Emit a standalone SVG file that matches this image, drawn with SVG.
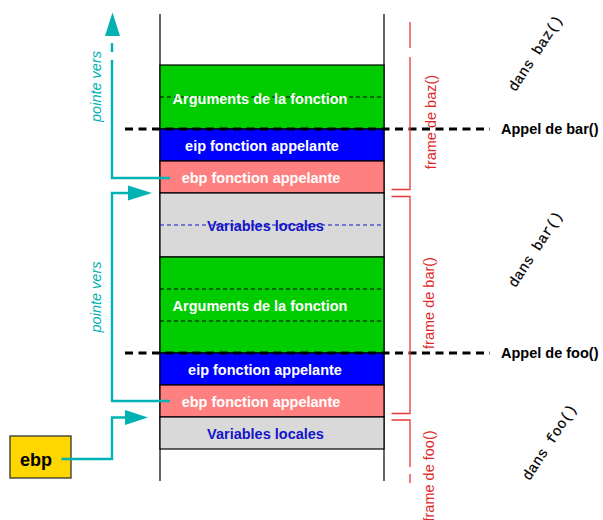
<svg xmlns="http://www.w3.org/2000/svg" width="603" height="520" viewBox="0 0 603 520">
  <style>
    .cell { stroke: #000; stroke-width: 1.2; }
    .args { fill: #00cc00; }
    .eip { fill: #0000ff; }
    .ebp { fill: #ff8080; }
    .locals { fill: #d9d9d9; }
    .lbl { font-family: "Liberation Sans", Arial, sans-serif; font-size: 14.5px; font-weight: bold; text-anchor: middle; }
    .white { fill: #fff; }
    .navy { fill: #1414c8; }
    .inner { stroke: #000; stroke-width: 1; stroke-dasharray: 4 3; fill: none; }
    .innerblue { stroke: #1414c8; stroke-width: 1; stroke-dasharray: 4 3; fill: none; }
    .call { stroke: #000; stroke-width: 3; stroke-dasharray: 8 5.5; fill: none; }
    .calltxt { font-family: "Liberation Sans", Arial, sans-serif; font-size: 14.5px; font-weight: bold; fill: #000; }
    .frame { stroke: #e83a3a; stroke-width: 1.3; fill: none; }
    .frametxt { font-family: "Liberation Sans", Arial, sans-serif; font-size: 14.5px; fill: #e02a2a; text-anchor: middle; }
    .ptr { stroke: #00b2b2; stroke-width: 2.4; fill: none; }
    .head { fill: #00b2b2; }
    .ptrtxt { font-family: "Liberation Sans", Arial, sans-serif; font-size: 14.5px; font-style: italic; fill: #00b2b2; text-anchor: middle; }
    .scope { font-family: "Liberation Mono", "Courier New", monospace; font-size: 14.5px; fill: #000; stroke: #000; stroke-width: 0.2; text-anchor: middle; }
  </style>

  <!-- stack column borders -->
  <g id="stack-walls" stroke="#000" stroke-width="1.2">
    <line x1="160" y1="14" x2="160" y2="481"/>
    <line x1="384" y1="14" x2="384" y2="481"/>
  </g>

  <!-- frame of baz(): caller side -->
  <g id="args-baz">
    <rect class="cell args" x="160" y="65" width="224" height="64"/>
    <line class="inner" x1="160" y1="97" x2="384" y2="97"/>
    <text class="lbl white" x="260" y="104">Arguments de la fonction</text>
  </g>
  <g id="eip-baz">
    <rect class="cell eip" x="160" y="129" width="224" height="32"/>
    <text class="lbl white" x="262" y="151">eip fonction appelante</text>
  </g>
  <g id="ebp-baz">
    <rect class="cell ebp" x="160" y="161" width="224" height="32"/>
    <text class="lbl white" x="261" y="183">ebp fonction appelante</text>
  </g>

  <!-- frame of bar() -->
  <g id="locals-bar">
    <rect class="cell locals" x="160" y="193" width="224" height="64"/>
    <line class="innerblue" x1="160" y1="225" x2="384" y2="225"/>
    <text class="lbl navy" x="265.5" y="231">Variables locales</text>
  </g>
  <g id="args-bar">
    <rect class="cell args" x="160" y="257" width="224" height="96"/>
    <line class="inner" x1="160" y1="289" x2="384" y2="289"/>
    <line class="inner" x1="160" y1="321" x2="384" y2="321"/>
    <text class="lbl white" x="260" y="311">Arguments de la fonction</text>
  </g>
  <g id="eip-bar">
    <rect class="cell eip" x="160" y="353" width="224" height="32"/>
    <text class="lbl white" x="265" y="375">eip fonction appelante</text>
  </g>
  <g id="ebp-bar">
    <rect class="cell ebp" x="160" y="385" width="224" height="32"/>
    <text class="lbl white" x="261" y="407">ebp fonction appelante</text>
  </g>

  <!-- frame of foo() -->
  <g id="locals-foo">
    <rect class="cell locals" x="160" y="417" width="224" height="32"/>
    <text class="lbl navy" x="265.5" y="439">Variables locales</text>
  </g>

  <!-- ebp register -->
  <g id="ebp-register">
    <rect x="10" y="436" width="61" height="42" fill="#ffd700" stroke="#333" stroke-width="1.3"/>
    <text x="36" y="466" font-family="Liberation Sans, Arial, sans-serif" font-size="18" font-weight="bold" text-anchor="middle" fill="#000">ebp</text>
  </g>

  <!-- call boundaries -->
  <g id="call-bar">
    <line class="call" x1="125" y1="129" x2="490" y2="129"/>
    <text class="calltxt" x="501" y="134">Appel de bar()</text>
  </g>
  <g id="call-foo">
    <line class="call" x1="125" y1="353" x2="490" y2="353"/>
    <text class="calltxt" x="501" y="358">Appel de foo()</text>
  </g>

  <!-- frame brackets -->
  <g id="frame-baz">
    <path class="frame" d="M410,22 V48 M410,57 V189.5 H391.5"/>
    <text class="frametxt" transform="translate(435.5,122) rotate(-90)">frame de baz()</text>
  </g>
  <g id="frame-bar">
    <path class="frame" d="M391.5,196.5 H410 V413.5 H391.5"/>
    <text class="frametxt" transform="translate(433.5,303) rotate(-90)">frame de bar()</text>
  </g>
  <g id="frame-foo">
    <path class="frame" d="M391.5,420 H410 V467 M410,474 V483"/>
    <text class="frametxt" transform="translate(433.5,476) rotate(-90)">frame de foo()</text>
  </g>

  <!-- current function labels -->
  <g id="scope-baz" transform="translate(535,53) rotate(-57)">
    <text class="scope" x="0" y="5">dans baz()</text>
  </g>
  <g id="scope-bar" transform="translate(535,249) rotate(-57)">
    <text class="scope" x="0" y="5">dans bar()</text>
  </g>
  <g id="scope-foo" transform="translate(549,442) rotate(-57)">
    <text class="scope" x="0" y="5">dans foo()</text>
  </g>

  <!-- saved-ebp pointers -->
  <g id="connectors">
    <path class="ptr" d="M170,178 H112 V60 M112,52 V43"/>
    <polygon class="head" points="112.5,12.5 105,36 120,36"/>
    <text class="ptrtxt" transform="translate(101,86.5) rotate(-90)">pointe vers</text>

    <path class="ptr" d="M170,401 H112 V193 H129"/>
    <polygon class="head" points="152,193 128,185.5 128,200.5"/>
    <text class="ptrtxt" transform="translate(101,297) rotate(-90)">pointe vers</text>

    <path class="ptr" d="M61.5,459 H112 V417.5 H126"/>
    <polygon class="head" points="148,417.5 125,410 125,425"/>
  </g>
</svg>
